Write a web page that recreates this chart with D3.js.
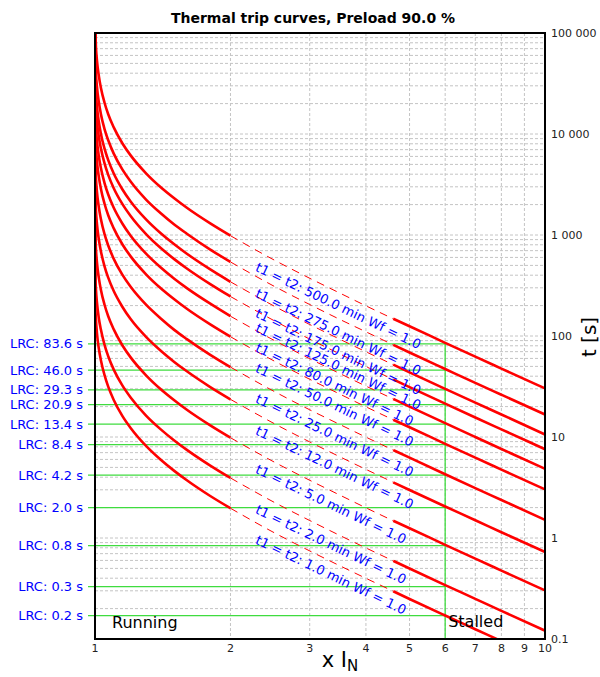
<!DOCTYPE html>
<html>
<head>
<meta charset="utf-8">
<script src="https://cdn.jsdelivr.net/npm/d3@7"></script>
<style>
body { margin: 0; background: #fff; }
text { font-family: "DejaVu Sans", sans-serif; }
</style>
</head>
<body>
<div id="chart"></div>
<script>
// time constants of the curves (t1 = t2, minutes) and their locked-rotor times at 6 x IN
var tauMin = [500, 275, 175, 125, 80, 50, 25, 12, 5, 2, 1];
var lrcTimes = [83.6, 46.0, 29.3, 20.9, 13.4, 8.4, 4.2, 2.0, 0.84, 0.33, 0.17];

// running part of each curve (x IN from 1 to 2), times in s
var leftX = [1, 1.002, 1.005, 1.01, 1.02, 1.03, 1.05, 1.07, 1.1, 1.15, 1.2, 1.3, 1.4, 1.5, 1.6, 1.8, 2];
var leftTimes = [
	[100000, 97700, 71900, 53600, 37400, 29100, 20400, 15700, 11700, 8100, 6140, 4060, 2970, 2310, 1860, 1310, 984],
	[100000, 53700, 39500, 29500, 20600, 16000, 11200, 8660, 6430, 4460, 3380, 2230, 1640, 1270, 1030, 721, 541],
	[100000, 34200, 25200, 18800, 13100, 10200, 7150, 5510, 4090, 2840, 2150, 1420, 1040, 808, 652, 459, 344],
	[100000, 24400, 18000, 13400, 9340, 7290, 5110, 3940, 2920, 2030, 1540, 1015, 743, 577, 466, 328, 246],
	[100000, 15600, 11500, 8580, 5980, 4660, 3270, 2520, 1870, 1300, 983, 650, 476, 369, 298, 210, 157],
	[100000, 9770, 7190, 5360, 3740, 2910, 2040, 1570, 1170, 810, 614, 406, 297, 231, 186, 131, 98.4],
	[100000, 4890, 3590, 2680, 1870, 1460, 1020, 787, 584, 405, 307, 203, 149, 115, 93.2, 65.5, 49.2],
	[100000, 2345, 1725, 1287, 897, 700, 490, 378, 280, 195, 147, 97.4, 71.4, 55.4, 44.7, 31.4, 23.6],
	[100000, 977, 719, 536, 374, 291, 204, 157, 117, 81.0, 61.4, 40.6, 29.7, 23.1, 18.6, 13.1, 9.84],
	[100000, 391, 287, 215, 149, 117, 81.7, 63.0, 46.7, 32.4, 24.6, 16.2, 11.9, 9.24, 7.46, 5.24, 3.93],
	[100000, 195, 144, 107, 74.7, 58.3, 40.9, 31.5, 23.4, 16.2, 12.3, 8.12, 5.95, 4.62, 3.73, 2.62, 1.97]
];

// overload part (x IN from 2 to 10)
var rightX = [2, 2.5, 3, 3.5, 4, 4.6, 5, 6, 7, 8, 10];
var rightTimes = [
	[984, 566, 373, 266, 199, 148, 125, 85.6, 62.4, 47.6, 30.3],
	[541, 311, 205, 146, 110, 81.6, 68.6, 47.1, 34.3, 26.2, 16.7],
	[344, 198, 130, 92.9, 69.8, 52.0, 43.7, 30.0, 21.9, 16.7, 10.6],
	[246, 142, 93.2, 66.4, 49.8, 37.1, 31.2, 21.4, 15.6, 11.9, 7.57],
	[157, 90.6, 59.6, 42.5, 31.9, 23.8, 20.0, 13.7, 9.99, 7.61, 4.85],
	[98.4, 56.6, 37.3, 26.6, 19.9, 14.8, 12.5, 8.56, 6.24, 4.76, 3.03],
	[49.2, 28.3, 18.6, 13.3, 9.97, 7.42, 6.24, 4.28, 3.12, 2.38, 1.51],
	[23.6, 13.6, 8.94, 6.37, 4.78, 3.56, 2.99, 2.05, 1.50, 1.14, 0.727],
	[9.84, 5.66, 3.73, 2.66, 1.99, 1.48, 1.25, 0.856, 0.624, 0.476, 0.303],
	[3.93, 2.26, 1.49, 1.06, 0.797, 0.594, 0.499, 0.342, 0.250, 0.190, 0.121],
	[1.97, 1.13, 0.745, 0.531, 0.399, 0.297, 0.249, 0.171, 0.125, 0.0952, 0.0606]
];

var xTicks = [1, 2, 3, 4, 5, 6, 7, 8, 9, 10];
var yTicks = [0.1, 1, 10, 100, 1000, 10000, 100000];
var yTickLabels = ["0.1", "1", "10", "100", "1 000", "10 000", "100 000"];
var stallX = 6;
var solidFromX = 4.6;
var runningEndX = 2;

var svgWidth = 600, svgHeight = 677;
var margin = {top: 33, right: 55, bottom: 38, left: 95},
	width = svgWidth - margin.left - margin.right,
	height = svgHeight - margin.top - margin.bottom;

var svgRoot = d3.select("#chart")
	.append("svg")
		.attr("width", svgWidth)
		.attr("height", svgHeight);
var svg = svgRoot.append("g")
		.attr("transform", `translate(${margin.left},${margin.top})`);

var x = d3.scaleLog().domain([1, 10]).range([0, width]);
var y = d3.scaleLog().domain([0.1, 100000]).range([height, 0]);

svg.append("clipPath").attr("id", "plotclip")
	.append("rect").attr("width", width).attr("height", height);

// grid
svg.append("g").selectAll("line.gx")
	.data(x.ticks().filter(v => v > 1 && v < 10))
	.enter().append("line")
		.attr("x1", d => x(d)).attr("x2", d => x(d))
		.attr("y1", 0).attr("y2", height)
		.attr("stroke", "#c4c4c4").attr("stroke-width", 1)
		.attr("stroke-dasharray", "3,2");
svg.append("g").selectAll("line.gy")
	.data(y.ticks().filter(v => v > 0.1 && v < 100000))
	.enter().append("line")
		.attr("x1", 0).attr("x2", width)
		.attr("y1", d => y(d)).attr("y2", d => y(d))
		.attr("stroke", "#c4c4c4").attr("stroke-width", 1)
		.attr("stroke-dasharray", "3,2");

// locked rotor lines
var green = "#3fdc3f";
svg.append("g").selectAll("line")
	.data(lrcTimes)
	.enter().append("line")
		.attr("x1", -7).attr("x2", x(stallX))
		.attr("y1", d => y(d)).attr("y2", d => y(d))
		.attr("stroke", green).attr("stroke-width", 1.3);
svg.append("line")
	.attr("x1", x(stallX)).attr("x2", x(stallX))
	.attr("y1", y(d3.max(lrcTimes))).attr("y2", height)
	.attr("stroke", green).attr("stroke-width", 1.3);

svg.append("g").selectAll("text")
	.data(lrcTimes)
	.enter().append("text")
		.attr("x", -12).attr("y", d => y(d))
		.attr("dy", "0.35em")
		.attr("text-anchor", "end")
		.attr("fill", "#0000ff")
		.style("font-size", "13px")
		.text(d => "LRC: " + d3.format(".1f")(d) + " s");

// curves
var line = d3.line()
	.x(d => x(d[0]))
	.y(d => y(d[1]))
	.curve(d3.curveMonotoneX);

var curves = svg.append("g").attr("clip-path", "url(#plotclip)");
tauMin.forEach(function(tau, i) {
	var left = leftX.map((v, j) => [v, leftTimes[i][j]]);
	var right = rightX.map((v, j) => [v, rightTimes[i][j]]);
	curves.append("path")
		.datum(left)
		.attr("fill", "none").attr("stroke", "#ff0000").attr("stroke-width", 2.6)
		.attr("d", line);
	curves.append("path")
		.datum(right.filter(d => d[0] >= runningEndX && d[0] <= solidFromX))
		.attr("fill", "none").attr("stroke", "#ff0000").attr("stroke-width", 1)
		.attr("stroke-dasharray", "8,6")
		.attr("d", line);
	curves.append("path")
		.datum(right.filter(d => d[0] >= solidFromX))
		.attr("fill", "none").attr("stroke", "#ff0000").attr("stroke-width", 2.6)
		.attr("d", line);

	// label along the dashed part
	var anchor = right[1];
	svg.append("text")
		.attr("transform", `translate(${x(anchor[0])},${y(anchor[1])}) rotate(25.7)`)
		.attr("x", -13).attr("y", 18)
		.attr("fill", "#0000ff")
		.style("font-size", "13px")
		.text("t1 = t2: " + d3.format(".1f")(tau) + " min Wf = 1.0");
});

// frame
svg.append("rect")
	.attr("width", width).attr("height", height)
	.attr("fill", "none").attr("stroke", "#000").attr("stroke-width", 2);

// axes labels
svg.append("g").selectAll("text")
	.data(xTicks)
	.enter().append("text")
		.attr("x", d => x(d)).attr("y", height + 13)
		.attr("text-anchor", "middle")
		.style("font-size", "11px")
		.attr("fill", "#222")
		.text(d => d);
svg.append("g").selectAll("text")
	.data(yTicks)
	.enter().append("text")
		.attr("x", width + 6).attr("y", d => y(d))
		.attr("dy", "0.35em")
		.style("font-size", "11px")
		.attr("fill", "#222")
		.text((d, i) => yTickLabels[i]);

svg.append("text")
	.attr("x", 17).attr("y", height - 11)
	.style("font-size", "16px")
	.text("Running");
svg.append("text")
	.attr("x", x(stallX) + 3).attr("y", height - 12)
	.style("font-size", "16px")
	.text("Stalled");

svgRoot.append("text")
	.attr("x", 313).attr("y", 23)
	.attr("text-anchor", "middle")
	.style("font-size", "14px")
	.style("font-weight", "bold")
	.text("Thermal trip curves, Preload 90.0 %");

var xl = svgRoot.append("text")
	.attr("x", 340).attr("y", 667)
	.attr("text-anchor", "middle")
	.style("font-size", "21px");
xl.append("tspan").text("x I");
xl.append("tspan").attr("dy", 4).style("font-size", "15px").text("N");

svgRoot.append("text")
	.attr("transform", "translate(596,337) rotate(-90)")
	.attr("text-anchor", "middle")
	.style("font-size", "20px")
	.text("t [s]");
</script>
</body>
</html>
